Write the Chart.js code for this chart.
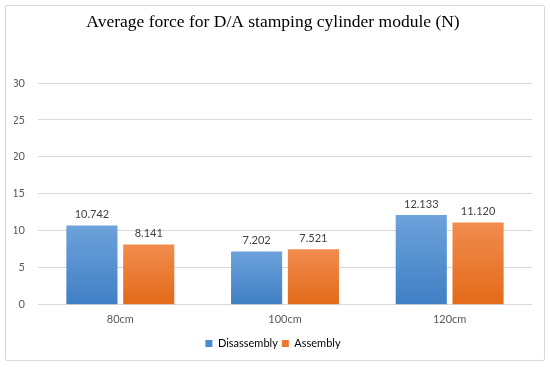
<!DOCTYPE html>
<html>
<head>
<meta charset="utf-8">
<script src="https://cdn.jsdelivr.net/npm/chart.js@4"></script>
<style>
  body { margin: 0; background: #fff; }
  #wrap { position: relative; width: 550px; height: 367px; }
  #frame { position: absolute; left: 5px; top: 5px; width: 538px; height: 354px; border: 1px solid #d9d9d9; border-radius: 2px; pointer-events: none; }
</style>
</head>
<body>
<div id="wrap">
  <canvas id="chart" width="550" height="367"></canvas>
  <div id="frame"></div>
</div>
<script>
const categories = ["80cm", "100cm", "120cm"];
const disassembly = [10.742, 7.202, 12.133];
const assembly = [8.141, 7.521, 11.120];
const yTicks = [0, 5, 10, 15, 20, 25, 30];

const textColor = "#595959";

// vertical gradient per bar, like the Excel fill
function barFill(top, bottom) {
  return function (c) {
    const chart = c.chart;
    if (!chart.chartArea) return bottom;
    const y = chart.scales.y;
    const v = c.dataset.data[c.dataIndex];
    const g = chart.ctx.createLinearGradient(0, y.getPixelForValue(v), 0, y.getPixelForValue(0));
    g.addColorStop(0, top);
    g.addColorStop(1, bottom);
    return g;
  };
}

// value labels above the bars
const valueLabels = {
  id: "valueLabels",
  afterDatasetsDraw(chart) {
    const ctx = chart.ctx;
    ctx.save();
    ctx.font = "11px Lato";
    ctx.fillStyle = "#404040";
    ctx.textAlign = "center";
    ctx.textBaseline = "middle";
    chart.data.datasets.forEach((ds, i) => {
      chart.getDatasetMeta(i).data.forEach((bar, j) => {
        ctx.fillText(ds.data[j].toFixed(3), bar.x, bar.y - 11);
      });
    });
    ctx.restore();
  }
};

new Chart(document.getElementById("chart"), {
  type: "bar",
  data: {
    labels: categories,
    datasets: [
      {
        label: "Disassembly",
        data: disassembly,
        backgroundColor: barFill("#6da2db", "#3f7fc4"),
        borderWidth: 0
      },
      {
        label: "Assembly",
        data: assembly,
        backgroundColor: barFill("#f18c4f", "#e36a18"),
        borderWidth: 0
      }
    ]
  },
  options: {
    responsive: false,
    animation: false,
    categoryPercentage: 0.69,
    barPercentage: 0.9,
    layout: { padding: { top: 8, left: 14, right: 18, bottom: 8 } },
    scales: {
      x: {
        grid: { display: false, drawTicks: false },
        border: { display: false },
        ticks: { color: textColor, font: { family: "Lato", size: 11 }, padding: 8 }
      },
      y: {
        min: 0,
        max: 30,
        afterBuildTicks(scale) { scale.ticks = yTicks.map(v => ({ value: v })); },
        afterFit(scale) { scale.width = 24; },
        grid: { color: "#d9d9d9", drawTicks: false },
        border: { display: false },
        ticks: { color: textColor, font: { family: "Lato", size: 11 }, padding: 13 }
      }
    },
    plugins: {
      title: {
        display: true,
        text: "Average force for D/A stamping cylinder module (N)",
        color: "#000",
        font: { family: "Liberation Serif", size: 17.5, weight: "normal" },
        padding: { top: 4, bottom: 50 }
      },
      legend: {
        position: "bottom",
        labels: {
          color: textColor,
          font: { family: "Lato", size: 11 },
          boxWidth: 7,
          boxHeight: 7,
          padding: 4,
          generateLabels(chart) {
            const fills = ["#4a8bd0", "#ec7a30"];
            return chart.data.datasets.map((ds, i) => ({
              text: ds.label,
              fillStyle: fills[i],
              strokeStyle: fills[i],
              lineWidth: 0,
              datasetIndex: i
            }));
          }
        }
      },
      tooltip: { enabled: false }
    }
  },
  plugins: [valueLabels]
});
</script>
</body>
</html>
